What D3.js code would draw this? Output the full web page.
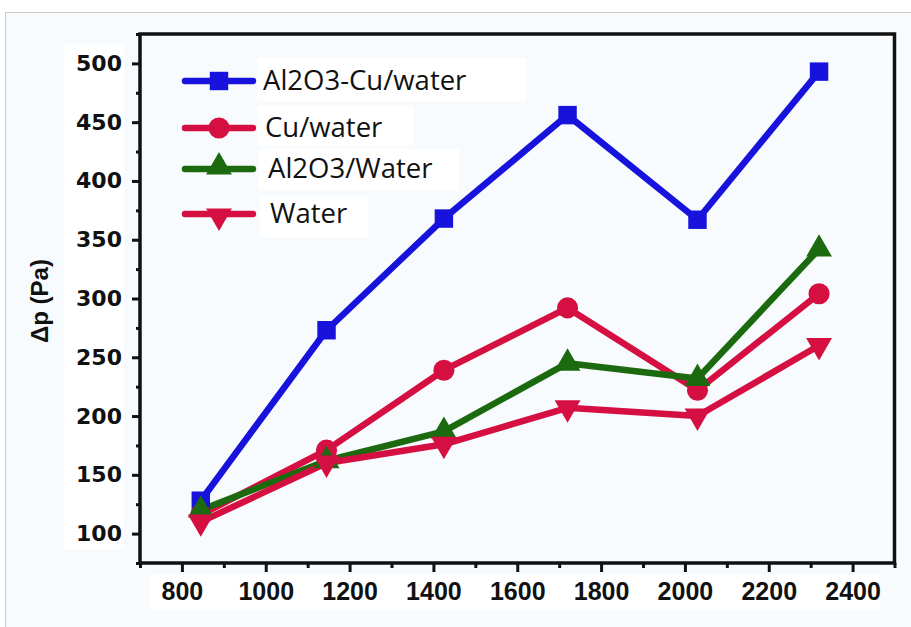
<!DOCTYPE html>
<html><head><meta charset="utf-8">
<script src="https://cdn.jsdelivr.net/npm/d3@7"></script>
<style>body{margin:0;background:#fff} svg{display:block}</style>
</head><body><svg id="c" width="911" height="627"></svg>
<script>
// ---- data ----
const reynolds = [845, 1145, 1425, 1720, 2030, 2320];
const hybridValues = [128, 273, 368, 456, 367, 493];
const cuWaterValues = [116, 171, 239, 292, 222, 304];
const al2o3WaterValues = [120, 162, 187, 245, 232, 342];
const waterValues = [110, 160, 176, 207, 200, 260];
const seriesNames = ["Al2O3-Cu/water", "Cu/water", "Al2O3/Water", "Water"];
const xTickValues = [800, 1000, 1200, 1400, 1600, 1800, 2000, 2200, 2400];
const yTickValues = [100, 150, 200, 250, 300, 350, 400, 450, 500];
const yAxisTitle = "Δp (Pa)";

const series = [
  {name: seriesNames[0], values: hybridValues, color: "#1712dc", symbol: d3.symbolSquare, size: 340, rot: 0},
  {name: seriesNames[1], values: cuWaterValues, color: "#d60f42", symbol: d3.symbolCircle, size: 350, rot: 0},
  {name: seriesNames[2], values: al2o3WaterValues, color: "#1c6a0f", symbol: d3.symbolTriangle, size: 290, rot: 0},
  {name: seriesNames[3], values: waterValues, color: "#d60f42", symbol: d3.symbolTriangle, size: 290, rot: 180}
];

const svg = d3.select("#c");
// background and frame of image
svg.append("rect").attr("x", 5.5).attr("y", 12.5).attr("width", 920).attr("height", 640)
  .attr("fill", "#f8fbfd").attr("stroke", "#c9c9c9").attr("stroke-width", 1);
// white patches behind tick labels
svg.append("rect").attr("x", 64).attr("y", 44).attr("width", 60).attr("height", 505).attr("fill", "#fff");
svg.append("rect").attr("x", 150).attr("y", 575).attr("width", 730).attr("height", 35).attr("fill", "#fff");

const x = d3.scaleLinear().domain([700, 2500]).range([140, 894.5]);
const y = d3.scaleLinear().domain([75, 525]).range([563, 34]);

const fontX = "'Liberation Sans', Arial, sans-serif";
const fontY = "'DejaVu Sans', Verdana, sans-serif";

// minor ticks
const xMinor = d3.range(700, 2501, 100).filter(v => !xTickValues.includes(v));
const yMinor = d3.range(75, 526, 50);

const gx = svg.append("g").attr("transform", `translate(0,${y.range()[0]})`);
gx.call(d3.axisBottom(x).tickValues(xTickValues).tickSize(9).tickPadding(10).tickFormat(d3.format("d")));
gx.append("g").call(d3.axisBottom(x).tickValues(xMinor).tickSize(5).tickFormat(""));
const gy = svg.append("g").attr("transform", `translate(${x.range()[0]},0)`);
gy.call(d3.axisLeft(y).tickValues(yTickValues).tickSize(8).tickPadding(10).tickFormat(d3.format("d")));
gy.append("g").call(d3.axisLeft(y).tickValues(yMinor).tickSize(4).tickFormat(""));

svg.selectAll(".domain").remove();
svg.selectAll(".tick line").attr("stroke", "#111").attr("stroke-width", 3);
gx.selectAll(".tick text").attr("font-family", fontX).attr("font-weight", "bold")
  .attr("font-size", 25).attr("fill", "#111");
gy.selectAll(".tick text").attr("font-family", fontY).attr("font-weight", "bold")
  .attr("font-size", 22).attr("fill", "#111");

// frame box
svg.append("rect").attr("x", x.range()[0]).attr("y", y.range()[1])
  .attr("width", x.range()[1] - x.range()[0]).attr("height", y.range()[0] - y.range()[1])
  .attr("fill", "none").attr("stroke", "#111").attr("stroke-width", 3.5);

// y-axis title
svg.append("text").attr("transform", "translate(48,301) rotate(-90)")
  .attr("text-anchor", "middle").attr("font-family", fontX).attr("font-weight", "bold")
  .attr("font-size", 24).attr("fill", "#111").text(yAxisTitle);

const line = d3.line().x((d, i) => x(reynolds[i])).y(d => y(d));

// lines first
series.forEach(s => {
  svg.append("path").datum(s.values).attr("d", line)
    .attr("fill", "none").attr("stroke", s.color).attr("stroke-width", 6.5)
    .attr("stroke-linejoin", "round");
});
// markers
series.forEach(s => {
  svg.append("g").selectAll("path").data(s.values).join("path")
    .attr("d", d3.symbol().type(s.symbol).size(s.size))
    .attr("transform", (d, i) => `translate(${x(reynolds[i])},${y(d)}) rotate(${s.rot})`)
    .attr("fill", s.color);
});

// legend
const legendY = [81, 128, 169, 214];
const legendBoxes = [[257, 58, 269, 43], [257, 106, 156, 40], [259, 149, 200, 41], [260, 196, 108, 41]];
const legendTextX = [263, 265, 268, 270];
const fontLegend = "'Open Sans', 'Noto Sans', sans-serif";
series.forEach((s, i) => {
  const b = legendBoxes[i];
  svg.append("rect").attr("x", b[0]).attr("y", b[1]).attr("width", b[2]).attr("height", b[3]).attr("fill", "#fff");
  svg.append("line").attr("x1", 185).attr("x2", 253).attr("y1", legendY[i]).attr("y2", legendY[i])
    .attr("stroke", s.color).attr("stroke-width", 6.5).attr("stroke-linecap", "round");
  svg.append("path").attr("d", d3.symbol().type(s.symbol).size(s.size))
    .attr("transform", `translate(219,${legendY[i] + (s.symbol === d3.symbolTriangle ? (s.rot ? 2 : -2) : 0)}) rotate(${s.rot})`)
    .attr("fill", s.color);
  svg.append("text").attr("x", legendTextX[i]).attr("y", legendY[i]).attr("dy", "0.34em")
    .attr("font-family", fontLegend).attr("font-size", 27.5).attr("fill", "#111").text(s.name);
});
</script></body></html>
